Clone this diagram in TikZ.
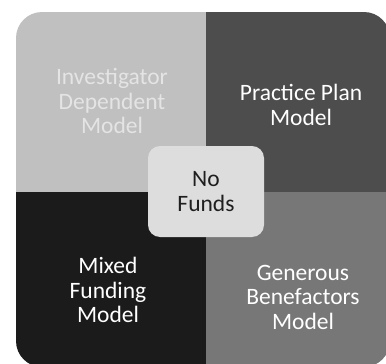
\documentclass[tikz,border=0pt]{standalone}
\usepackage{fontspec}
\setmainfont{Carlito}
\usetikzlibrary{positioning}
\definecolor{tlgray}{RGB}{192,192,192}
\definecolor{trgray}{RGB}{77,77,77}
\definecolor{blgray}{RGB}{27,27,27}
\definecolor{brgray}{RGB}{119,119,119}
\definecolor{hubgray}{RGB}{221,221,221}
\definecolor{softwhite}{RGB}{228,228,228}
\tikzset{
  quad/.style = {align=center, inner sep=0pt, font=\fontsize{23.5}{24.5}\selectfont},
  hub/.style = {fill=hubgray, rounded corners=12pt, minimum width=116pt, minimum height=91pt, align=center, text=black!88, font=\fontsize{23.5}{24.5}\selectfont}
}
\begin{document}
\begin{tikzpicture}[x=1pt,y=-1pt]
            \useasboundingbox (0,0) rectangle (386,364);
            \begin{scope}
              \clip[rounded corners=26pt] (16,12) rectangle (390,367);
              \fill[tlgray] (16,12) rectangle (206,192);
              \fill[trgray] (206,12) rectangle (390,192);
              \fill[blgray] (16,192) rectangle (206,367);
              \fill[brgray] (206,192) rectangle (390,367);
            \end{scope}
            \node[quad, text=softwhite] (idm) at (112,101) {Investigator\\Dependent\\Model};
            \node[quad, text=white] (ppm) at (301,105) {Practice Plan\\Model};
            \node[quad, text=white] (mfm) at (108,290) {Mixed\\Funding\\Model};
            \node[quad, text=white] (gbm) at (303,297) {Generous\\Benefactors\\Model};
            \node[hub] (nf) at (206,191.5) {No\\Funds};
        \end{tikzpicture}
\end{document}
